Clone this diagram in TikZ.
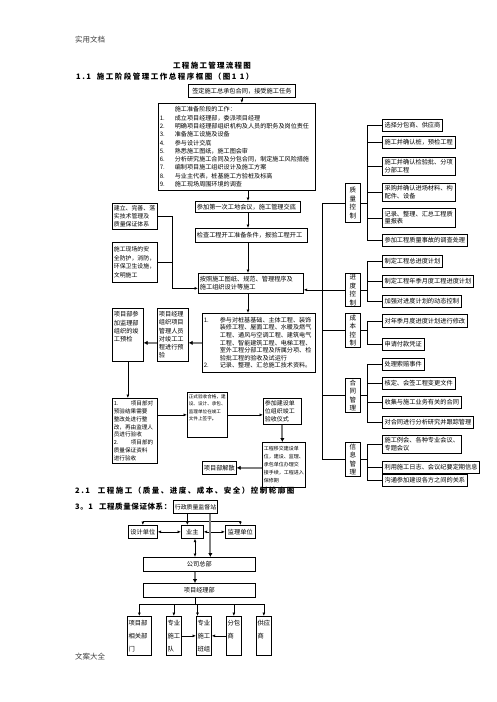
\documentclass[tikz,border=0pt]{standalone}
\usepackage{fontspec}
\setmainfont{Noto Sans CJK SC}
\usetikzlibrary{arrows.meta,calc}
\setlength{\parindent}{0pt}
\newcommand\txt[2]{\fontsize{#1}{#2}\selectfont}
\newcommand\hd[1]{\fontsize{7.5}{9}\selectfont\bfseries\addfontfeatures{LetterSpace=#1}}
\begin{document}
\begin{tikzpicture}[x=1pt,y=-1pt,
 box/.style={draw, line width=0.7pt, anchor=north west, inner xsep=1.5pt, inner ysep=1pt, align=left},
 arr/.style={line width=0.7pt, -{Latex[length=3.5pt,width=3pt]}},
 darr/.style={line width=0.7pt, {Latex[length=3.5pt,width=3pt]}-{Latex[length=3.5pt,width=3pt]}},
 garr/.style={draw=gray, line width=2pt, -{Latex[length=4pt,width=4.5pt,color=black]}},
 ln/.style={line width=0.7pt},
 vbox/.style={draw, line width=0.7pt, anchor=north west, inner sep=0pt, minimum width=15pt, text width=9pt, align=center, font={\txt{6.5}{8.5}}},
 rbox/.style={draw, line width=0.7pt, anchor=north west, inner xsep=2.2pt, inner ysep=1pt, align=left, font={\txt{6.2}{7.5}}, minimum height=12pt},
 sbox/.style={draw, line width=0.7pt, anchor=north west, inner xsep=1.5pt, inner ysep=1pt, align=center, font={\txt{6.2}{7.5}}, minimum height=13pt},
 tbox/.style={draw, line width=0.7pt, anchor=north west, inner xsep=1.2pt, inner ysep=1pt, align=left, font={\txt{6.3}{13}}, minimum height=39pt},
 lbl/.style={anchor=west, inner sep=0pt}
]
\fill[white] (0,0) rectangle (496,702);
\useasboundingbox (0,0) rectangle (496,702);

% header / titles
\node[lbl, font={\txt{7.5}{9}}, text=black!75] (hdr) at (75,40) {实用文档};
\node[lbl, font={\hd{17}}] (title) at (173,66) {工程施工管理流程图};
\node[lbl, font={\hd{20}}] (h11) at (76,77) {1.1\hspace{6pt}施工阶段管理工作总程序框图（图1 1）};
\node[lbl, font={\hd{20}}] (h21) at (75,491) {2.1\hspace{8pt}工程施工（质量、进度、成本、安全）控制轮廓图};
\node[lbl, font={\hd{8}}] (h31) at (75,507) {3。1\hspace{6pt}工程质量保证体系：};
\node[lbl, font={\txt{7.5}{9}}, text=black!75] (ftr) at (75,657) {文案大全};

% main flow
\node[box, text width=104pt, minimum height=13pt, align=center, font={\txt{6.2}{7.5}}] (A) at (188,84) {签定施工总承包合同，接受施工任务};
\node[box, text width=154pt, minimum height=87pt, font={\txt{6.1}{8.3}}] (B) at (158,103) {\hspace*{15pt}施工准备阶段的工作：\\
\makebox[15pt][l]{1.}成立项目经理部，委派项目经理\\
\makebox[15pt][l]{2.}明确项目经理部组织机构及人员的职务及岗位责任\\
\makebox[15pt][l]{3.}准备施工设施及设备\\
\makebox[15pt][l]{4.}参与设计交底\\
\makebox[15pt][l]{5.}熟悉施工图纸，施工图会审\\
\makebox[15pt][l]{6.}分析研究施工合同及分包合同，制定施工风险措施\\
\makebox[15pt][l]{7.}编制项目施工组织设计及施工方案\\
\makebox[15pt][l]{8.}与业主代表，桩基施工方验桩及标高\\
\makebox[15pt][l]{9.}施工现场周围环境的调查};
\node[box, text width=102pt, minimum height=11pt, font={\txt{6.2}{7.5}}] (C) at (195,201) {参加第一次工地会议，施工管理交底};
\node[box, text width=109pt, minimum height=14pt, font={\txt{6.2}{7.5}}] (D) at (195,228) {检查工程开工准备条件，报验工程开工};
\node[box, text width=102pt, minimum height=20pt, font={\txt{6.2}{8}}] (E) at (198,273) {按照施工图纸、规范、管理程序及\\施工组织设计等施工};
\node[box, text width=110pt, minimum height=59pt, font={\txt{6.1}{7.6}}] (F) at (202,313) {\makebox[16pt][l]{1.}参与对桩基基础、主体工程、装饰\\
\hspace*{16pt}装修工程、屋面工程、水暖及燃气\\
\hspace*{16pt}工程、通风与空调工程、建筑电气\\
\hspace*{16pt}工程、智能建筑工程、电梯工程、\\
\hspace*{16pt}室外工程分部工程及所属分项、检\\
\hspace*{16pt}验批工程的验收及试运行\\
\makebox[16pt][l]{2.}记录、整理、汇总施工技术资料。};

\node[box, text width=42pt, minimum height=26pt, font={\txt{5.9}{8.3}}] (L1) at (112,203) {建立、完善、落\\实技术管理及\\质量保证体系};
\node[box, text width=42pt, minimum height=40pt, font={\txt{5.9}{8.5}}] (L2) at (112,242) {施工现场的安\\全防护，消防，\\环保卫生设施，\\文明施工};

\node[box, text width=28pt, minimum height=53pt, font={\txt{6.2}{8.2}}] (G) at (157,308) {项目经理\\组织项目\\管理人员\\对竣工工\\程进行预\\验};
\node[box, text width=28pt, minimum height=53pt, font={\txt{6.2}{8.2}}] (H) at (112,308) {项目部参\\加监理部\\组织的竣\\工预检\\\mbox{}\\\mbox{}};
\node[box, text width=42pt, minimum height=65pt, font={\txt{5.6}{7.9}}] (I) at (112,398) {\makebox[17pt][l]{1.}项目部对\\预验结果需要\\整改处进行整\\改，再由监理人\\员进行验收\\\makebox[17pt][l]{2.}项目部的\\质量保证资料\\进行验收};
\node[box, text width=37pt, minimum height=45pt, font={\txt{4.6}{7.5}}] (J) at (187,392) {正式验收合格，建\\设、设计、承包、\\监理单位在竣工\\文件上签字。\\\mbox{}\\\mbox{}};
\node[box, text width=35pt, minimum height=26pt, font={\txt{6}{8}}] (K) at (263,398) {参加建设单\\位组织竣工\\验收仪式};
\node[box, text width=40pt, minimum height=45pt, font={\txt{5}{8}}] (L) at (262,442) {工程移交建设单\\位，建设、监理、\\承包单位办理交\\接手续，工程进入\\保修期};
\node[box, text width=31pt, minimum height=13pt, align=center, font={\txt{6.2}{7.5}}] (M) at (202,461) {项目部解散};

% control boxes
\node[vbox, minimum height=39pt] (Q) at (345,183) {质\\量\\控\\制};
\node[vbox, minimum height=33pt] (P) at (345,273) {进\\度\\控\\制};
\node[vbox, minimum height=34pt] (Cst) at (345,313) {成\\本\\控\\制};
\node[vbox, minimum height=34pt] (Ctr) at (345,378) {合\\同\\管\\理};
\node[vbox, minimum height=34pt] (Inf) at (345,442) {信\\息\\管\\理};

% right item boxes
\node[rbox] (q1) at (382,119) {选择分包商、供应商};
\node[rbox] (q2) at (382,136) {施工并确认桩，预检工程};
\node[rbox, minimum height=18pt] (q3) at (382,157) {施工并确认检验批、分项\\分部工程};
\node[rbox, minimum height=18pt] (q4) at (382,183) {采购并确认进场材料、构\\配件、设备};
\node[rbox, minimum height=19pt] (q5) at (382,208) {记录、整理、汇总工程质\\量报表};
\node[rbox] (q6) at (382,234) {参加工程质量事故的调查处理};
\node[rbox] (p1) at (382,255) {制定工程总进度计划};
\node[rbox] (p2) at (382,275) {制定工程年季月度工程进度计划};
\node[rbox] (p3) at (382,295) {加强对进度计划的动态控制};
\node[rbox, minimum height=13pt] (c1) at (382,314) {对年季月度进度计划进行修改};
\node[rbox] (c2) at (382,338) {申请付款凭证};
\node[rbox] (k1) at (382,358) {处理索赔事件};
\node[rbox] (k2) at (382,377) {核定、会签工程变更文件};
\node[rbox] (k3) at (382,396) {收集与施工业务有关的合同};
\node[rbox] (k4) at (382,416) {对合同进行分析研究并跟踪管理};
\node[rbox, minimum height=18pt] (i1) at (382,435) {施工例会、各种专业会议、\\专题会议};
\node[rbox] (i2) at (382,461) {利用施工日志、会议纪要定期信息};
\node[rbox] (i3) at (382,474) {沟通参加建设各方之间的关系};

% main flow connectors
\coordinate (mx) at (248,0);
\draw[arr] (A.south) -- (A.south |- B.north);
\draw[arr] (mx |- B.south) -- (mx |- C.north);
\draw[arr] (mx |- C.south) -- (mx |- D.north);
\draw[arr] (mx |- D.south) -- (mx |- E.north);
\draw[arr] (mx |- E.south) -- (mx |- F.north);

\coordinate (lj) at (172,0);
\coordinate (ey) at ([yshift=-5pt]E.west);
\draw[ln] (L2.east) -- (lj |- L2.east);
\draw[arr] (L1.east) -- (lj |- L1.east) -- (lj |- ey) -- (ey);

\draw[garr] (F.west) -- (F.west -| G.east);
\draw[garr] (G.west |- F.west) -- (F.west -| H.east);
\draw[arr] (H.south) -- (H.south |- I.north);
\draw[arr] (I.east |- J.west) -- (J.west);
\draw[arr] (J.east) -- (J.east -| K.west);
\draw[garr] (K.south) -- (K.south |- L.north);
\draw[garr] (L.west |- M.east) -- (M.east);

% control spine
\coordinate (lx) at (322,0);
\draw[ln] (Q.west) -- (lx |- Q.west) -- (lx |- Inf.west) -- (Inf.west);
\draw[ln] (lx |- Cst.west) -- (Cst.west);
\draw[ln] (lx |- Ctr.west) -- (Ctr.west);
\draw[arr] (P.west) -- (P.west -| E.east);

% brackets
\coordinate (bx) at (367,0);
\draw[ln] (Q.east) -- (bx |- Q.east);
\draw[ln] (bx |- q1.west) -- (bx |- q6.west);
\foreach \n in {q1,q2,q3,q4,q5,q6} \draw[ln] (bx |- \n.west) -- (\n.west);
\draw[ln] (P.east) -- (bx |- P.east);
\draw[ln] (bx |- p1.west) -- (bx |- p3.west);
\foreach \n in {p1,p2,p3} \draw[ln] (bx |- \n.west) -- (\n.west);
\draw[ln] (Cst.east) -- (bx |- Cst.east);
\draw[ln] (bx |- c1.west) -- (bx |- c2.west);
\foreach \n in {c1,c2} \draw[ln] (bx |- \n.west) -- (\n.west);
\draw[ln] (Ctr.east) -- (bx |- Ctr.east);
\draw[ln] (bx |- k1.west) -- (bx |- k4.west);
\foreach \n in {k1,k2,k3,k4} \draw[ln] (bx |- \n.west) -- (\n.west);
\draw[ln] (Inf.east) -- (bx |- Inf.east);
\draw[ln] (bx |- i1.west) -- (bx |- i3.west);
\foreach \n in {i1,i2,i3} \draw[ln] (bx |- \n.west) -- (\n.west);

% quality assurance system
\node[sbox, text width=41pt, font={\txt{5.9}{7.5}}] (N0) at (173,500) {行政质量监督站};
\node[sbox, text width=26pt] (S1) at (128,525) {设计单位};
\node[sbox, text width=19pt] (S2) at (181,525) {业主};
\node[sbox, text width=27pt] (S3) at (225,525) {监理单位};
\node[sbox, text width=109pt, minimum height=14pt] (P1) at (143,557) {公司总部};
\node[sbox, text width=109pt, minimum height=14pt] (P2) at (143,583) {项目经理部};
\node[tbox, text width=21.6pt] (T1) at (127,616) {项目部\\相关部\\门};
\node[tbox, text width=12.6pt] (T2) at (166,616) {专业\\施工\\队};
\node[tbox, text width=12.6pt] (T3) at (196,616) {专业\\施工\\班组};
\node[tbox, text width=12.6pt] (T4) at (226,616) {分包\\商\\\mbox{}};
\node[tbox, text width=12.6pt] (T5) at (256,616) {供应\\商\\\mbox{}};

\coordinate (hy) at (0,521);
\draw[ln] (S1.north |- hy) -- (S3.north |- hy);
\draw[arr] (S1.north |- hy) -- (S1.north);
\draw[arr] (S3.north |- hy) -- (S3.north);
\coordinate (n0a) at ([xshift=-8pt]N0.south);
\coordinate (n0b) at ([xshift=15pt]N0.south);
\draw[arr] (n0a) -- (n0a |- S2.north);
\draw[darr] (S1.east) -- (S2.west);
\draw[darr] (S2.east) -- (S3.west);
\draw[garr] (n0b) -- (n0b |- P1.north);
\coordinate (cx) at (195,0);
\draw[darr] (cx |- S2.south) -- (cx |- P1.north);
\draw[garr] (cx |- P1.south) -- (cx |- P2.north);
\coordinate (by) at (0,604);
\draw[ln] (cx |- P2.south) -- (cx |- by);
\draw[ln] (T1.north |- by) -- (T5.north |- by);
\foreach \t in {T1,T2,T4,T5} \draw[arr] (\t.north |- by) -- (\t.north);
\coordinate (t3a) at ([xshift=1.5pt]T3.north west);
\draw[arr] (t3a |- by) -- (t3a);
\draw[arr] (T2.east) -- (T3.west);
\draw[arr] (T4.west) -- (T3.east);
\end{tikzpicture}
\end{document}
